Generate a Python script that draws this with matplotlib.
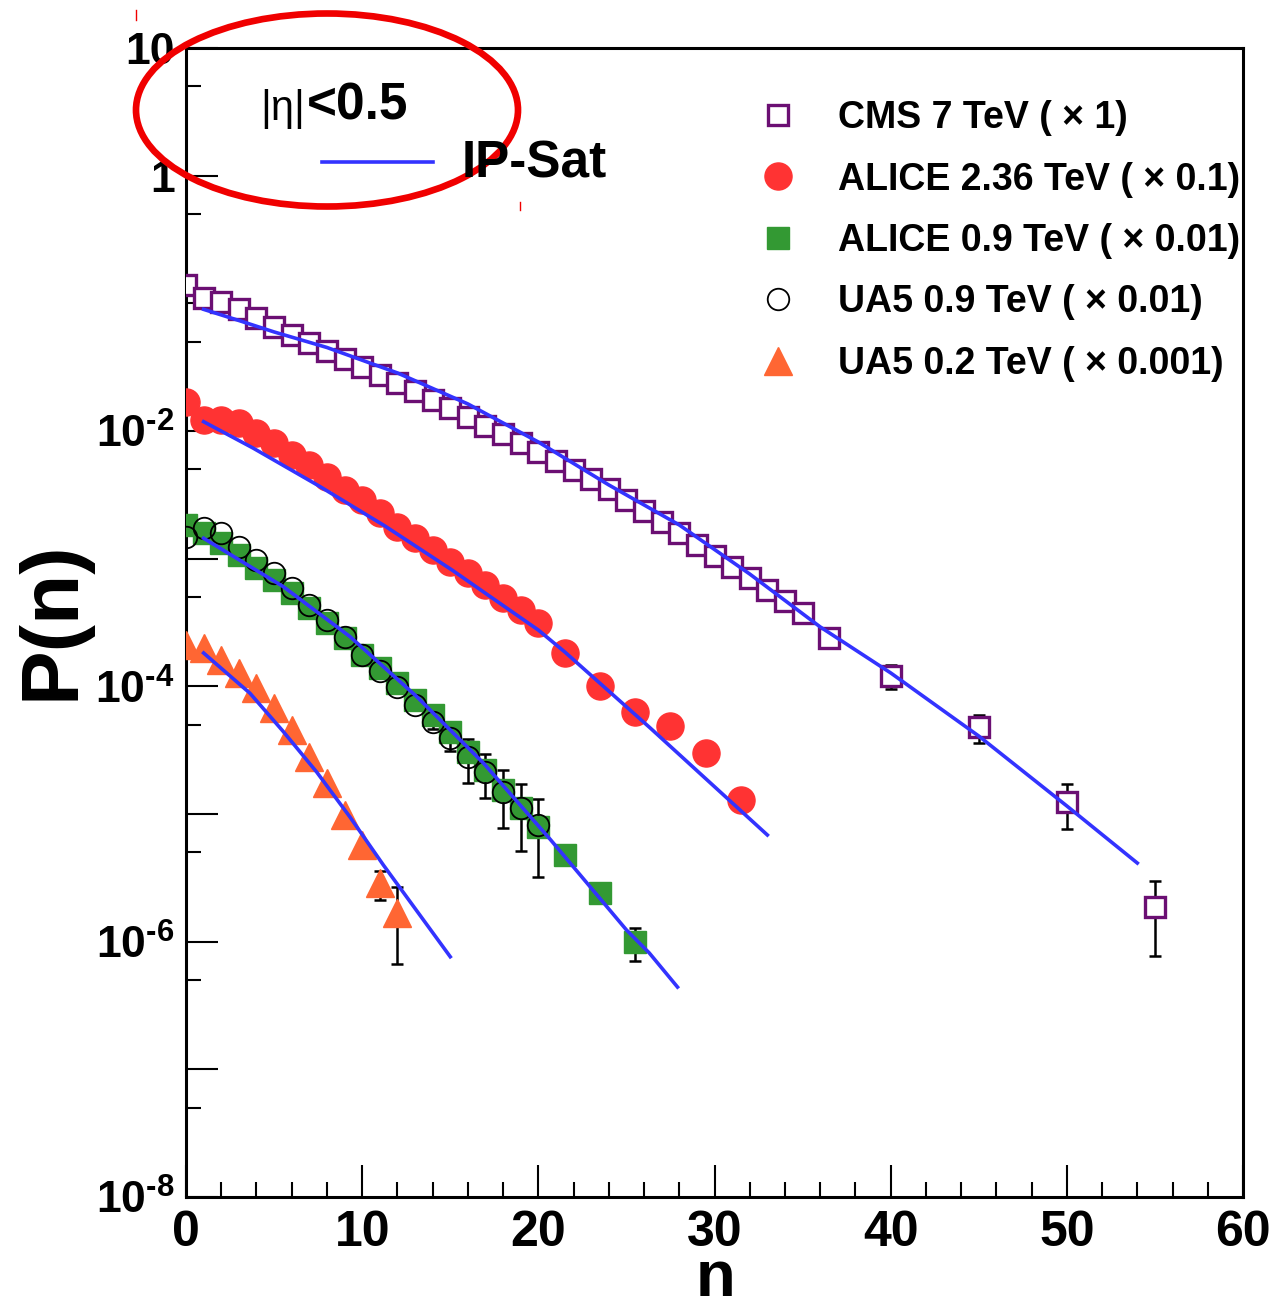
import matplotlib
matplotlib.use("Agg")
import matplotlib.pyplot as plt
import numpy as np
from matplotlib.patches import Ellipse
from matplotlib.lines import Line2D
from matplotlib.ticker import FixedLocator, NullFormatter

plt.rcParams['font.family'] = ['Liberation Sans', 'DejaVu Sans']
plt.rcParams['font.weight'] = 'bold'
plt.rcParams['mathtext.fontset'] = 'custom'
plt.rcParams['mathtext.rm'] = 'Liberation Sans:bold'
plt.rcParams['mathtext.bf'] = 'Liberation Sans:bold'

# ---- data ----
cms_n = [0, 1, 2, 3, 4, 5, 6, 7, 8, 9, 10, 11, 12, 13, 14, 15, 16, 17, 18, 19, 20,
         21, 22, 23, 24, 25, 26, 27, 28, 29, 30, 31, 32, 33, 34, 35, 36.5, 40, 45, 50, 55]
cms_p = [0.1393, 0.1102, 0.1025, 0.0904, 0.0768, 0.0653, 0.0565, 0.0489, 0.0423, 0.0366,
         0.0317, 0.0275, 0.0238, 0.0204, 0.0175, 0.0151, 0.0129, 0.0109, 0.00939, 0.00805,
         0.00685, 0.00582, 0.00495, 0.00417, 0.00351, 0.00288, 0.00236, 0.00194, 0.00159,
         0.00128, 0.00105, 0.000861, 0.000706, 0.000569, 0.000466, 0.000375, 0.000239,
         1.205e-4, 4.80e-5, 1.24e-5, 1.87e-6]
cms_err = [0] * 29 + [1.9e-4, 1.6e-4, 1.3e-4, 1.1e-4, 8.5e-5, 7.0e-5, 5.6e-5, 3.5e-5,
                      2.6e-5, 1.2e-5, 4.8e-6, 1.1e-6]

alice236_n = list(range(21)) + [21.5, 23.5, 25.5, 27.5, 29.5, 31.5]
alice236_p = [0.01698, 0.0122, 0.0121, 0.0115, 0.00959, 0.00802, 0.00649, 0.00542, 0.00439,
              0.00345, 0.00288, 0.00226, 0.00178, 0.00144, 0.00117, 0.000946, 0.000767,
              0.000622, 0.000490, 0.000396, 0.000312, 1.816e-4, 1.007e-4, 6.35e-5, 4.89e-5,
              3.01e-5, 1.29e-5]

alice09_n = list(range(21)) + [21.5, 23.5, 25.5]
alice09_p = [0.001837, 0.00159, 0.001318, 0.001068, 0.000841, 0.000681, 0.000536, 0.000408,
             0.000312, 0.000238, 1.758e-4, 1.393e-4, 1.062e-4, 7.82e-5, 5.97e-5, 4.42e-5,
             3.08e-5, 2.21e-5, 1.54e-5, 1.109e-5, 7.96e-6, 4.78e-6, 2.39e-6, 1.0e-6]
alice09_err = [0] * 23 + [2.9e-7]

ua509_n = list(range(21))
ua509_p = [0.001469, 0.001730, 0.001581, 0.001242, 0.000977, 0.000767, 0.000586, 0.000434,
           0.000331, 0.000245, 1.758e-4, 1.318e-4, 9.89e-5, 7.14e-5, 5.26e-5, 3.92e-5,
           2.81e-5, 2.15e-5, 1.50e-5, 1.109e-5, 8.20e-6]
ua509_err = [0] * 13 + [4e-6, 6e-6, 8e-6, 1.05e-5, 8.2e-6, 7.2e-6, 6e-6, 5e-6]

ua502_n = list(range(13))
ua502_p = [2.11e-4, 1.99e-4, 1.61e-4, 1.265e-4, 9.66e-5, 6.73e-5, 4.55e-5, 2.81e-5, 1.74e-5,
           9.82e-6, 5.71e-6, 2.86e-6, 1.667e-6]
ua502_err = [0] * 11 + [7.4e-7, 1.0e-6]

# IP-Sat curves
cms_fit_n = [1, 3, 5, 8, 12, 16, 20, 24, 28, 32, 36, 40, 45, 50, 54]
cms_fit_p = [0.0897, 0.0734, 0.0597, 0.0451, 0.0285, 0.01629, 0.0082, 0.00378, 0.001837,
             0.000758, 0.000292, 1.274e-4, 4.08e-5, 1.156e-5, 4.13e-6]
a236_fit_n = [1, 3.8, 7.55, 11.3, 15.1, 20, 21.5, 26.35, 33]
a236_fit_p = [0.01183, 0.00736, 0.00371, 0.00180, 0.000815, 0.000276, 0.000186, 4.72e-5, 6.85e-6]
a09_fit_n = [1, 5.52, 9.31, 13.1, 16.9, 20.7, 25.0, 26.3, 27.9]
a09_fit_p = [0.001445, 0.000604, 0.000245, 8.30e-5, 2.49e-5, 6.27e-6, 1.236e-6, 8.15e-7, 4.41e-7]
u02_fit_n = [1, 3.63, 5.5, 7.42, 9.3, 11.2, 15.0]
u02_fit_p = [1.824e-4, 8.83e-5, 4.46e-5, 2.13e-5, 9.5e-6, 3.99e-6, 7.62e-7]

labels = ["CMS 7 TeV ( × 1)", "ALICE 2.36 TeV ( × 0.1)", "ALICE 0.9 TeV ( × 0.01)",
          "UA5 0.9 TeV ( × 0.01)", "UA5 0.2 TeV ( × 0.001)"]

W, H = 1271, 1311
fx = lambda px: px / W
fy = lambda py: 1 - py / H

fig = plt.figure(figsize=(12.71, 13.11), dpi=100)
ax = fig.add_axes([fx(186), fy(1197), fx(1243) - fx(186), fy(48) - fy(1197)])

blue = '#3333ff'
ecol = dict(fmt='none', ecolor='black', elinewidth=1.8, capsize=4, capthick=1.8, zorder=2)


def bars(n, p, e):
    n, p, e = np.array(n), np.array(p), np.array(e)
    m = e > 0
    ax.errorbar(n[m], p[m], yerr=e[m], **ecol)


bars(cms_n, cms_p, cms_err)
bars(alice09_n, alice09_p, alice09_err)
bars(ua509_n, ua509_p, ua509_err)
bars(ua502_n, ua502_p, ua502_err)

h1, = ax.plot(cms_n, cms_p, 's', ms=14.5, mfc='white', mec='#6b0f73', mew=2.4, ls='none', zorder=3)
h2, = ax.plot(alice236_n, alice236_p, 'o', ms=19.5, color='#ff3333', ls='none', zorder=3)
h3, = ax.plot(alice09_n, alice09_p, 's', ms=16.5, color='#339933', ls='none', zorder=3)
h4, = ax.plot(ua509_n, ua509_p, 'o', ms=15.5, mfc='none', mec='black', mew=1.3, ls='none', zorder=4)
h5, = ax.plot(ua502_n, ua502_p, '^', ms=19.5, color='#ff6633', ls='none', zorder=3)

for fn, fp in [(cms_fit_n, cms_fit_p), (a236_fit_n, a236_fit_p),
               (a09_fit_n, a09_fit_p), (u02_fit_n, u02_fit_p)]:
    ax.plot(fn, fp, '-', color=blue, lw=2.6, zorder=5)

ax.set_yscale('log')
ax.set_xlim(0, 60)
ax.set_ylim(1e-8, 10)

ax.xaxis.set_major_locator(FixedLocator(np.arange(0, 61, 10)))
ax.xaxis.set_minor_locator(FixedLocator(np.arange(0, 61, 2)))
ax.set_xticklabels([str(v) for v in range(0, 61, 10)])

major_y = [10.0 ** k for k in range(-8, 2)]
ax.yaxis.set_major_locator(FixedLocator(major_y))
ax.yaxis.set_minor_locator(FixedLocator([5 * 10.0 ** k for k in range(-9, 1)]))
ax.yaxis.set_minor_formatter(NullFormatter())
ylab = {-8: r'$\mathbf{10}^{\text{-8}}$', -6: r'$\mathbf{10}^{\text{-6}}$',
        -4: r'$\mathbf{10}^{\text{-4}}$', -2: r'$\mathbf{10}^{\text{-2}}$', 0: '1', 1: '10'}
ax.set_yticklabels([ylab.get(k, '') for k in range(-8, 2)])

ax.tick_params(which='both', direction='in', top=False, right=False, width=1.5, color='black')
ax.tick_params(which='major', length=23)
ax.tick_params(which='minor', length=11)
ax.tick_params(axis='x', which='major', labelsize=36, pad=9)
ax.tick_params(axis='y', which='major', labelsize=32, pad=8)
for s in ax.spines.values():
    s.set_linewidth(2.2)

leg = ax.legend([h1, h2, h3, h4, h5], labels, loc='upper left',
                bbox_to_anchor=(fx(759), fy(100)), bbox_transform=fig.transFigure,
                frameon=False, borderpad=0, borderaxespad=0, handlelength=1.0,
                handletextpad=1.1, labelspacing=0.68, numpoints=1,
                prop={'weight': 'bold', 'size': 27})

# header text and IP-Sat key
fig.text(fx(260), fy(120), '|η|', fontsize=30, fontweight='normal', va='baseline')
fig.text(fx(307), fy(120), '<0.5', fontsize=37, fontweight='bold', va='baseline')
fig.add_artist(Line2D([fx(322), fx(433)], [fy(162), fy(162)], color=blue, lw=2.6))
fig.text(fx(462), fy(177), 'IP-Sat', fontsize=37, fontweight='bold', va='baseline')

fig.text(fx(52), fy(620), 'P(n)', rotation=90, ha='center', va='center', fontsize=59, fontweight='bold')
fig.text(fx(715), fy(1296), 'n', ha='center', va='baseline', fontsize=47, fontweight='bold')

# red annotation ellipse
fig.add_artist(Ellipse((fx(327), fy(110)), 382 / W, 193 / H, fill=False, ec='#f00000', lw=4.8,
                       transform=fig.transFigure))
fig.add_artist(Line2D([fx(136), fx(136)], [fy(10), fy(20)], color='#f00000', lw=1))
fig.add_artist(Line2D([fx(520), fx(520)], [fy(202), fy(210)], color='#f00000', lw=1))

fig.savefig('out.png', dpi=100)
